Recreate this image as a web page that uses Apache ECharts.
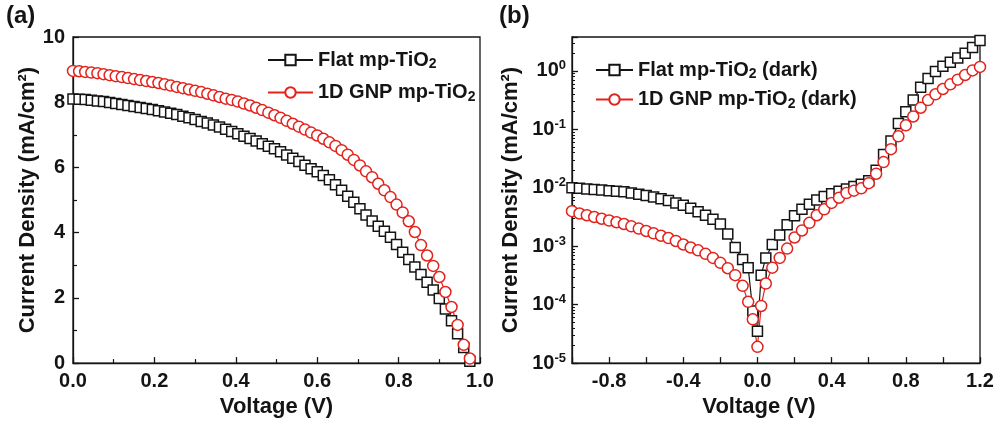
<!DOCTYPE html>
<html>
<head>
<meta charset="utf-8">
<script src="https://cdn.jsdelivr.net/npm/echarts@6/dist/echarts.min.js"></script>
<style>
  html, body { margin: 0; padding: 0; background: #fff; }
  #chart { width: 997px; height: 423px; }
</style>
</head>
<body>
<div id="chart"></div>
<script>
// (a) J-V under light
const vLight = [0, 0.015, 0.03, 0.045, 0.06, 0.075, 0.09, 0.105, 0.12, 0.135,
  0.15, 0.165, 0.18, 0.195, 0.21, 0.225, 0.24, 0.255, 0.27, 0.285,
  0.3, 0.315, 0.33, 0.345, 0.36, 0.375, 0.39, 0.405, 0.42, 0.435,
  0.45, 0.465, 0.48, 0.495, 0.51, 0.525, 0.54, 0.555, 0.57, 0.585,
  0.6, 0.615, 0.63, 0.645, 0.66, 0.675, 0.69, 0.705, 0.72, 0.735,
  0.75, 0.765, 0.78, 0.795, 0.81, 0.825, 0.84, 0.855, 0.87, 0.885,
  0.9, 0.915, 0.93, 0.945, 0.96, 0.975];
const jFlat = [8.10, 8.09, 8.08, 8.06, 8.04, 8.02, 7.99, 7.96, 7.93, 7.90,
  7.87, 7.84, 7.81, 7.78, 7.74, 7.70, 7.66, 7.62, 7.57, 7.52,
  7.47, 7.41, 7.36, 7.30, 7.24, 7.17, 7.10, 7.03, 6.96, 6.89,
  6.81, 6.73, 6.65, 6.57, 6.48, 6.38, 6.28, 6.18, 6.07, 5.96,
  5.87, 5.75, 5.62, 5.47, 5.30, 5.12, 4.93, 4.73, 4.54, 4.36,
  4.20, 4.04, 3.86, 3.64, 3.40, 3.18, 2.95, 2.72, 2.48, 2.24,
  1.98, 1.66, 1.30, 0.90, 0.48, 0.06];
const jGnp = [8.96, 8.95, 8.93, 8.91, 8.89, 8.86, 8.83, 8.80, 8.77, 8.74,
  8.71, 8.68, 8.65, 8.62, 8.59, 8.55, 8.51, 8.47, 8.43, 8.39,
  8.35, 8.31, 8.26, 8.21, 8.16, 8.11, 8.07, 8.02, 7.96, 7.90,
  7.83, 7.76, 7.68, 7.60, 7.52, 7.43, 7.34, 7.25, 7.16, 7.07,
  6.98, 6.88, 6.77, 6.66, 6.53, 6.39, 6.23, 6.06, 5.88, 5.70,
  5.50, 5.30, 5.09, 4.86, 4.62, 4.35, 4.02, 3.62, 3.30, 2.98,
  2.64, 2.18, 1.72, 1.17, 0.56, 0.14];

// (b) dark current, log scale
const vDark = [-1.00, -0.96, -0.92, -0.88, -0.84, -0.80, -0.76, -0.72, -0.68, -0.64,
  -0.60, -0.56, -0.52, -0.48, -0.44, -0.40, -0.36, -0.32, -0.28, -0.24,
  -0.20, -0.16, -0.12, -0.08, -0.05, -0.025, 0.00, 0.02, 0.045,
  0.08, 0.12, 0.16, 0.20, 0.24, 0.28, 0.32, 0.36, 0.40, 0.44,
  0.48, 0.52, 0.56, 0.60, 0.64, 0.68, 0.72, 0.76, 0.80, 0.84,
  0.88, 0.92, 0.96, 1.00, 1.04, 1.08, 1.12, 1.16, 1.20];
const jFlatDark = [1.00e-2, 9.77e-3, 9.55e-3, 9.33e-3, 9.12e-3, 8.91e-3, 8.71e-3, 8.51e-3, 8.13e-3, 7.76e-3,
  7.41e-3, 6.92e-3, 6.46e-3, 6.03e-3, 5.50e-3, 5.01e-3, 4.47e-3, 3.89e-3, 3.39e-3, 2.88e-3,
  2.40e-3, 1.62e-3, 9.5e-4, 5.9e-4, 4.3e-4, 7.8e-5, 3.5e-5, 3.2e-4, 6.3e-4,
  1.07e-3, 1.55e-3, 2.34e-3, 3.31e-3, 4.27e-3, 5.25e-3, 6.17e-3, 7.08e-3, 7.94e-3, 8.71e-3,
  9.55e-3, 1.05e-2, 1.15e-2, 1.32e-2, 2.0e-2, 3.7e-2, 6.31e-2, 0.126, 0.200, 0.316,
  0.525, 0.741, 0.977, 1.20, 1.41, 1.66, 2.00, 2.51, 3.31];
const jGnpDark = [3.98e-3, 3.63e-3, 3.39e-3, 3.16e-3, 2.95e-3, 2.75e-3, 2.57e-3, 2.40e-3, 2.19e-3, 2.00e-3,
  1.82e-3, 1.66e-3, 1.51e-3, 1.38e-3, 1.23e-3, 1.07e-3, 9.5e-4, 8.5e-4, 7.4e-4, 6.3e-4,
  5.2e-4, 4.2e-4, 3.2e-4, 2.1e-4, 1.12e-4, 5.6e-5, 1.9e-5, 9.5e-5, 2.3e-4,
  4.3e-4, 6.3e-4, 9.1e-4, 1.41e-3, 1.86e-3, 2.51e-3, 3.39e-3, 4.27e-3, 5.50e-3, 6.76e-3,
  8.13e-3, 8.91e-3, 9.77e-3, 1.20e-2, 1.74e-2, 2.75e-2, 4.57e-2, 7.59e-2, 0.117, 0.166,
  0.234, 0.316, 0.398, 0.490, 0.589, 0.708, 0.851, 1.02, 1.17];

const xTicksB = [-0.8, -0.4, 0, 0.4, 0.8, 1.2];
const namesA = ['Flat mp-TiO2', '1D GNP mp-TiO2'];
const namesB = ['Flat mp-TiO2 (dark)', '1D GNP mp-TiO2 (dark)'];

const FONT = '"Liberation Sans", Arial, sans-serif';
const BLACK = '#141414';
const RED = '#e3221c';

// log minor ticks 2..9 per decade
const logMinor = [];
for (let e = -5; e <= 0; e++) {
  for (let m = 2; m <= 9; m++) {
    const v = m * Math.pow(10, e);
    if (v < 3.8) logMinor.push(v);
  }
}

function pairs(xs, ys) {
  return xs.map((x, i) => [x, ys[i]]);
}

const labelStyle = { color: BLACK, fontFamily: FONT, fontWeight: 'bold', fontSize: 20 };
const nameStyle = { color: BLACK, fontFamily: FONT, fontWeight: 'bold', fontSize: 22 };
const axisLine = { show: true, onZero: false, lineStyle: { color: BLACK, width: 1.3 } };
const tick = { show: true, inside: true, length: 6, lineStyle: { color: BLACK, width: 1.3 } };

function legendText(name) {
  return name.replace('TiO2', 'TiO{sub|2}');
}
const legendStyle = {
  color: BLACK, fontFamily: FONT, fontWeight: 'bold', fontSize: 20, lineHeight: 22,
  rich: { sub: { color: BLACK, fontFamily: FONT, fontWeight: 'bold', fontSize: 14, padding: [9, 0, 0, 0] } }
};

function lineSeries(name, xi, yi, data, symbol, color, size) {
  return {
    name: name,
    type: 'line',
    xAxisIndex: xi,
    yAxisIndex: yi,
    data: data,
    symbol: symbol,
    symbolSize: size,
    showSymbol: true,
    showAllSymbol: true,
    lineStyle: { color: color, width: 1.2 },
    itemStyle: { color: '#fff', borderColor: color, borderWidth: 1.5 },
    emphasis: { disabled: true },
    animation: false
  };
}

const chart = echarts.init(document.getElementById('chart'));

chart.setOption({
  backgroundColor: '#fff',
  title: [
    { text: '(a)', left: 6, top: 4, padding: 0, textStyle: { color: BLACK, fontFamily: FONT, fontWeight: 'bold', fontSize: 24 } },
    { text: '(b)', left: 499, top: 4, padding: 0, textStyle: { color: BLACK, fontFamily: FONT, fontWeight: 'bold', fontSize: 24 } }
  ],
  legend: [
    {
      data: namesA, orient: 'vertical', left: 262, top: 44, itemWidth: 45, itemHeight: 13, itemGap: 10,
      formatter: legendText, textStyle: legendStyle, selectedMode: false
    },
    {
      data: namesB, orient: 'vertical', left: 590, top: 54, itemWidth: 37, itemHeight: 13, itemGap: 7,
      formatter: legendText, textStyle: legendStyle, selectedMode: false
    }
  ],
  grid: [
    { left: 73, right: 517, top: 37, bottom: 58, show: true, borderColor: BLACK, borderWidth: 1.3, backgroundColor: 'transparent' },
    { left: 572, right: 17, top: 37, bottom: 57, show: true, borderColor: BLACK, borderWidth: 1.3, backgroundColor: 'transparent' }
  ],
  xAxis: [
    {
      gridIndex: 0, type: 'value', min: 0, max: 1, interval: 0.2,
      name: 'Voltage (V)', nameLocation: 'middle', nameGap: 32, nameTextStyle: nameStyle,
      axisLine: axisLine, axisTick: tick,
      minorTick: { show: true, splitNumber: 2, length: 4, lineStyle: { color: BLACK, width: 1.2 } },
      splitLine: { show: false },
      axisLabel: Object.assign({ margin: 8, formatter: v => v.toFixed(1) }, labelStyle)
    },
    {
      gridIndex: 1, type: 'value', min: -1, max: 1.2, interval: 0.2,
      name: 'Voltage (V)', nameLocation: 'middle', nameGap: 32,
      nameTextStyle: Object.assign({ padding: [0, 34, 0, 0] }, nameStyle),
      axisLine: axisLine, axisTick: tick,
      splitLine: { show: false },
      axisLabel: Object.assign({
        margin: 8,
        formatter: v => {
          const r = Math.round(v * 10) / 10;
          return xTicksB.indexOf(r) >= 0 ? r.toFixed(1) : '';
        }
      }, labelStyle)
    }
  ],
  yAxis: [
    {
      gridIndex: 0, type: 'value', min: 0, max: 10, interval: 2,
      name: 'Current Density (mA/cm²)', nameLocation: 'middle', nameGap: 34, nameTextStyle: nameStyle,
      axisLine: axisLine, axisTick: tick,
      minorTick: { show: true, splitNumber: 2, length: 4, lineStyle: { color: BLACK, width: 1.2 } },
      splitLine: { show: false },
      axisLabel: Object.assign({ margin: 8 }, labelStyle)
    },
    {
      gridIndex: 1, type: 'log', logBase: 10, min: 1e-5, max: 3.8, position: 'left',
      name: 'Current Density (mA/cm²)', nameLocation: 'middle', nameGap: 50, nameTextStyle: nameStyle,
      axisLine: axisLine, axisTick: tick,
      splitLine: { show: false },
      axisLabel: {
        margin: 6,
        formatter: v => {
          const e = Math.log10(v);
          const r = Math.round(e);
          if (Math.abs(e - r) > 1e-6) return '';
          return '{b|10}{s|' + r + '}';
        },
        rich: {
          b: { color: BLACK, fontFamily: FONT, fontWeight: 'bold', fontSize: 20 },
          s: { color: BLACK, fontFamily: FONT, fontWeight: 'bold', fontSize: 13, padding: [0, 0, 10, 0] }
        }
      }
    },
    {
      // log minor ticks only
      gridIndex: 1, type: 'log', logBase: 10, min: 1e-5, max: 3.8, position: 'left', offset: 0,
      axisLine: { show: false, onZero: false },
      axisTick: { show: true, inside: true, length: 3, customValues: logMinor, lineStyle: { color: BLACK, width: 1 } },
      axisLabel: { show: false },
      splitLine: { show: false }
    }
  ],
  series: [
    lineSeries(namesA[0], 0, 0, pairs(vLight, jFlat), 'rect', BLACK, 10),
    lineSeries(namesA[1], 0, 0, pairs(vLight, jGnp), 'circle', RED, 11),
    lineSeries(namesB[0], 1, 1, pairs(vDark, jFlatDark), 'rect', BLACK, 10),
    lineSeries(namesB[1], 1, 1, pairs(vDark, jGnpDark), 'circle', RED, 11)
  ]
});
</script>
</body>
</html>
